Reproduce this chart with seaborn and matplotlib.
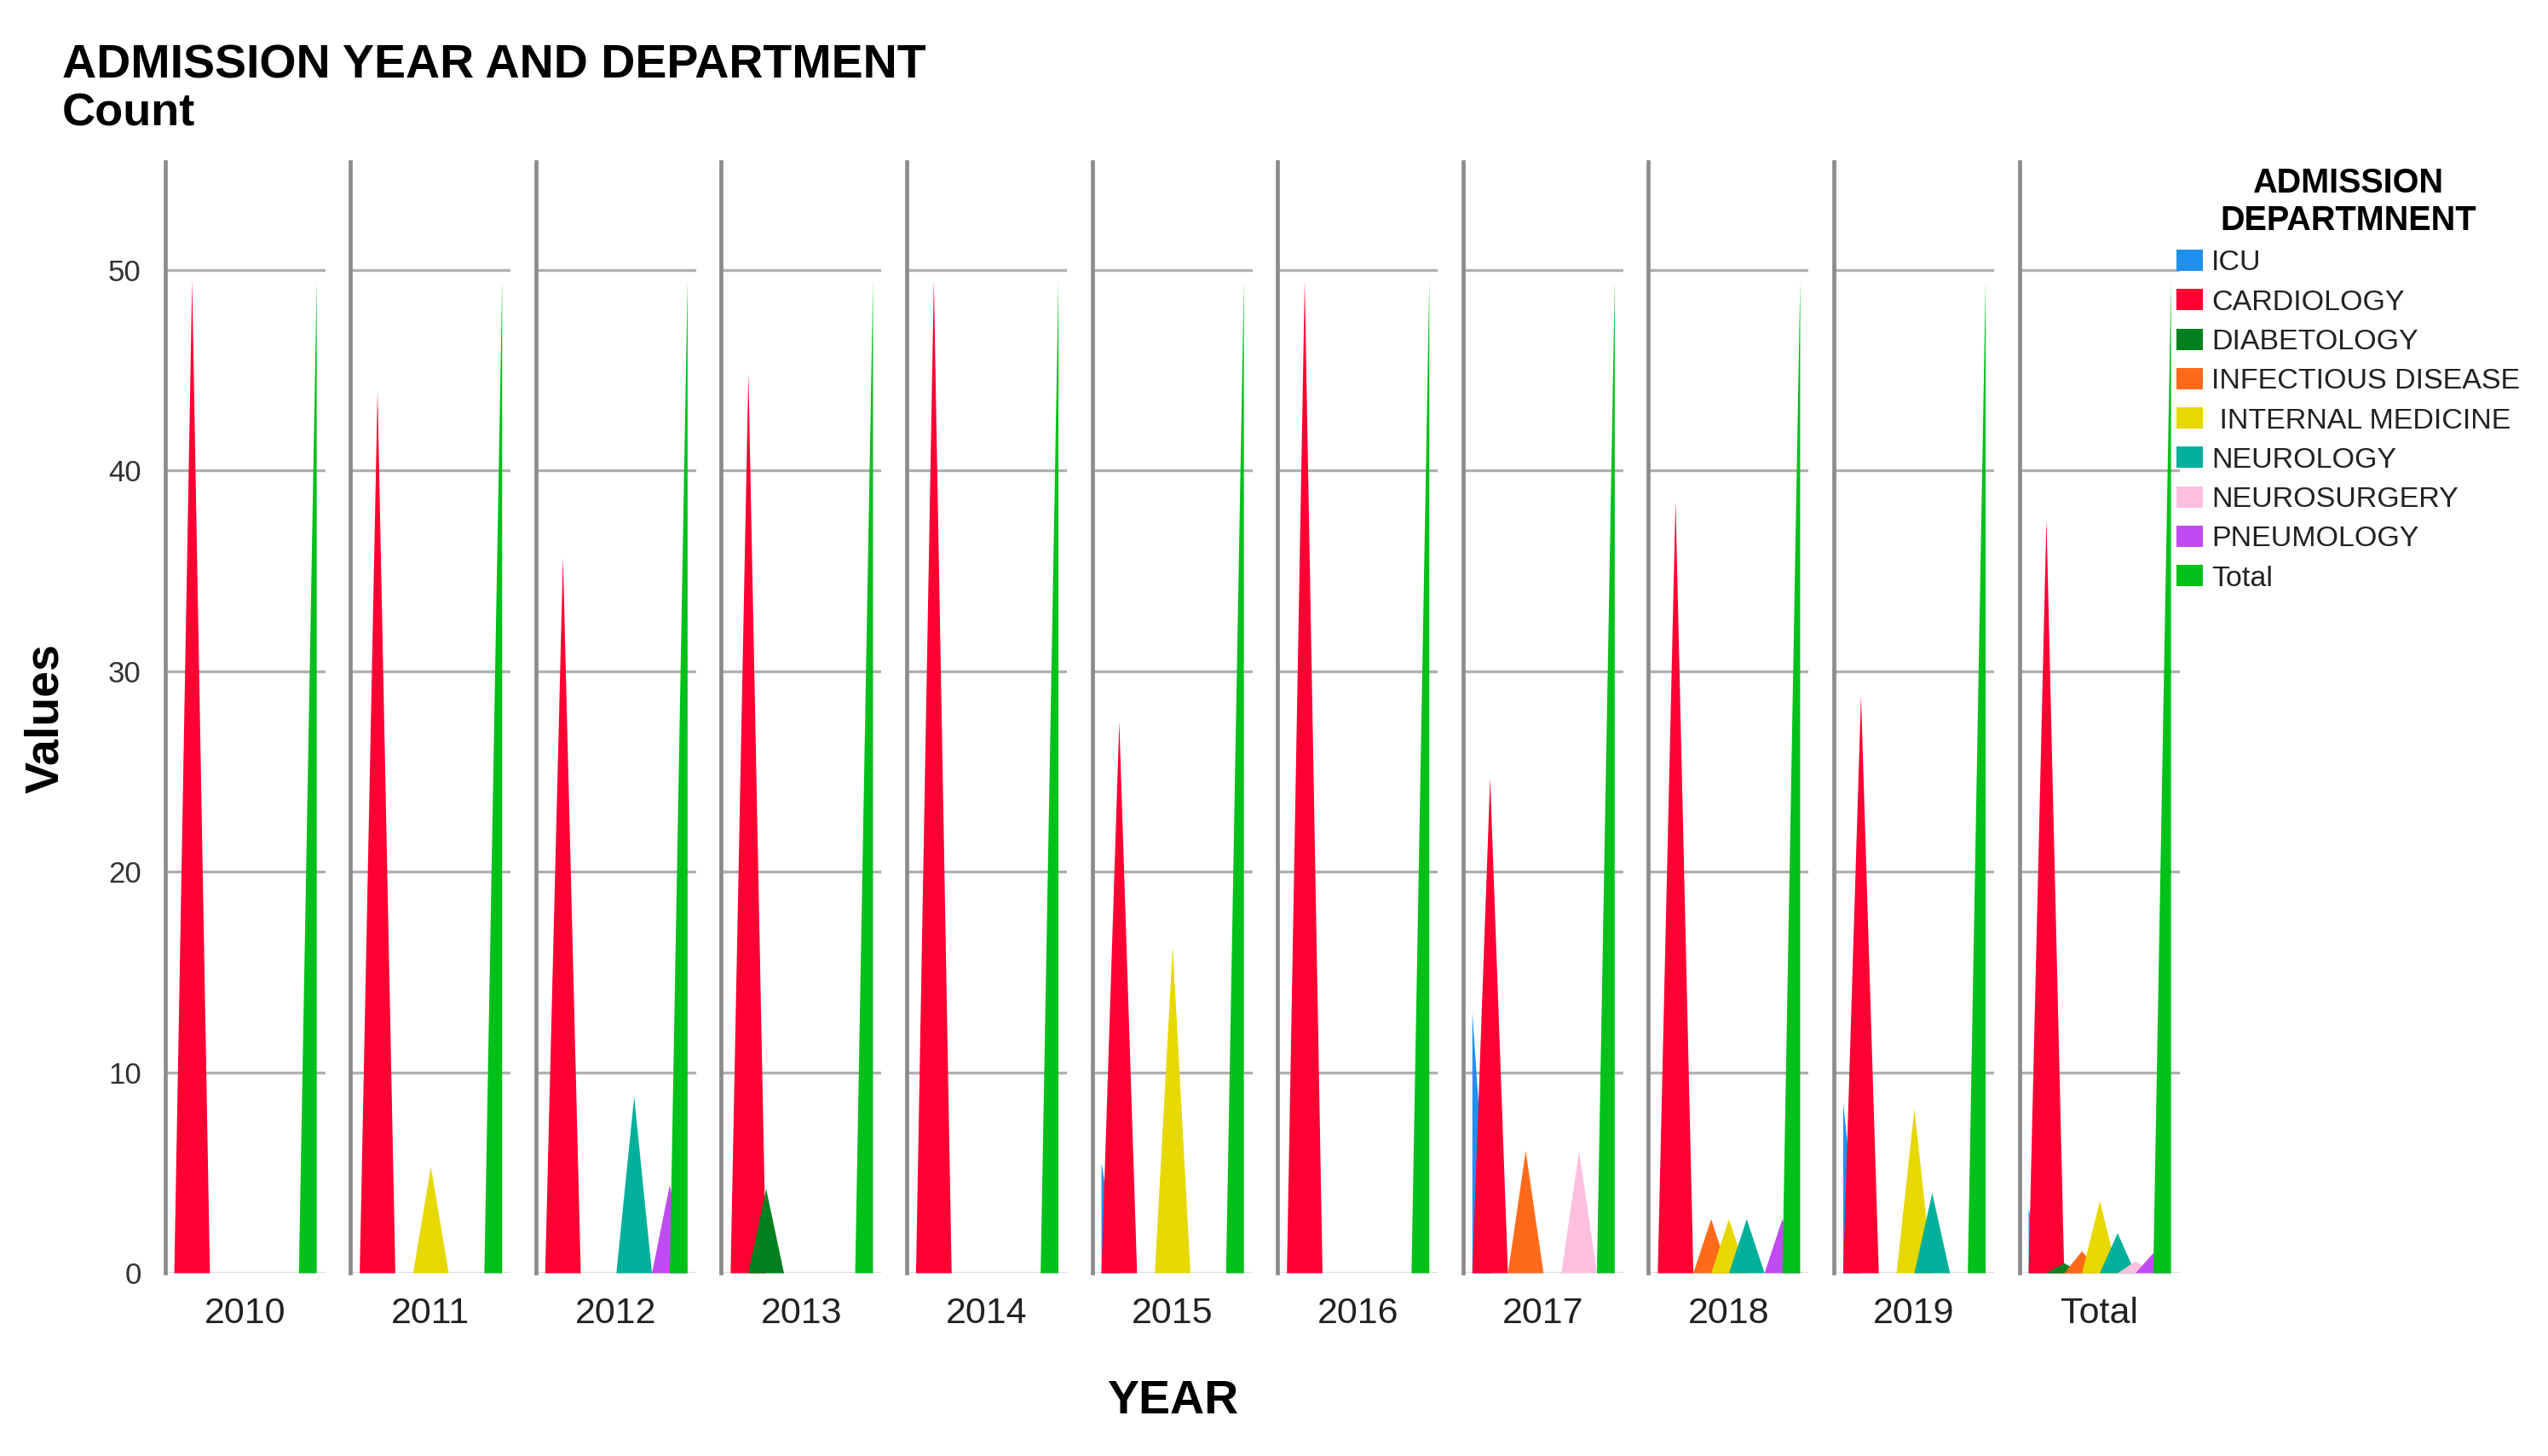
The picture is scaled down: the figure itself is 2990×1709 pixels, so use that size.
import numpy as np
import matplotlib
matplotlib.use("Agg")
import matplotlib.pyplot as plt
import seaborn as sns
from matplotlib.patches import Patch

# ==========================================
# data
# ==========================================
years = ['2010', '2011', '2012', '2013', '2014', '2015', '2016', '2017', '2018', '2019', 'Total']
departments = ['ICU', 'CARDIOLOGY', 'DIABETOLOGY', 'INFECTIOUS DISEASE', ' INTERNAL MEDICINE',
               'NEUROLOGY', 'NEUROSURGERY', 'PNEUMOLOGY', 'Total']

icu          = [0, 0, 0, 0, 0, 5.5, 0, 13.0, 0, 8.5, 3.2]
cardiology   = [49.5, 44.0, 35.7, 44.9, 49.5, 27.5, 49.5, 24.7, 38.5, 28.8, 37.6]
diabetology  = [0, 0, 0, 4.2, 0, 0, 0, 0, 0, 0, 0.5]
infectious   = [0, 0, 0, 0, 0, 0, 0, 6.1, 2.7, 0, 1.1]
internal_med = [0, 5.3, 0, 0, 0, 16.3, 0, 0, 2.7, 8.2, 3.6]
neurology    = [0, 0, 8.8, 0, 0, 0, 0, 0, 2.7, 4.0, 2.0]
neurosurgery = [0, 0, 0, 0, 0, 0, 0, 6.1, 0, 0, 0.6]
pneumology   = [0, 0, 4.4, 0, 0, 0, 0, 0, 2.7, 0, 1.0]
total        = [49.5, 49.5, 49.5, 49.5, 49.5, 49.5, 49.5, 49.5, 49.5, 49.5, 49.5]

series = [icu, cardiology, diabetology, infectious, internal_med,
          neurology, neurosurgery, pneumology, total]

colors = ['#2090f0', '#ff0033', '#00801e', '#ff6a1a', '#e6d800',
          '#00b09a', '#ffc0e0', '#c04af5', '#00c01a']
palette = sns.color_palette(colors)

# ==========================================
# style
# ==========================================
sns.set_theme(style="white")
plt.rcParams['font.family'] = ['Liberation Sans', 'DejaVu Sans']
plt.rcParams['text.color'] = 'black'

W, H = 2990, 1709
fig = plt.figure(figsize=(W / 100, H / 100), dpi=100)

left0 = 193.6 / W
step = 217.6 / W
width = 188 / W
bottom = 1 - 1494 / H
height = (1494 - 190) / H

x = np.arange(len(departments))

for k, yr in enumerate(years):
    ax = fig.add_axes([left0 + k * step, bottom, width, height])
    for j, vals in enumerate(series):
        y = np.zeros(len(departments))
        y[j] = vals[k]
        ax.fill_between(x, 0, y, color=palette[j], lw=0, zorder=3)

    ax.set_xlim(-0.5, 8.5)
    ax.set_ylim(0, 55.4)
    ax.set_yticks([0, 10, 20, 30, 40, 50])
    ax.yaxis.grid(True, color='#b0b0b0', lw=2.4, zorder=1)
    ax.get_ygridlines()[0].set_color('#dcdcdc')
    ax.xaxis.grid(False)
    ax.set_xticks([4])
    ax.set_xticklabels([yr], fontsize=31, color='#222222')
    ax.tick_params(axis='x', length=0, pad=20)
    ax.tick_params(axis='y', length=0, pad=20, labelsize=25, labelcolor='#333333')
    if k > 0:
        ax.tick_params(axis='y', labelleft=False)
    sns.despine(ax=ax, top=True, right=True, bottom=True, left=False)
    ax.spines['left'].set_color('#8c8c8c')
    ax.spines['left'].set_linewidth(3.4)
    ax.set_facecolor('white')

# titles and axis labels
fig.text(73 / W, 1 - 92 / H, 'ADMISSION YEAR AND DEPARTMENT', fontsize=40,
         fontweight='bold', va='baseline', ha='left')
fig.text(73 / W, 1 - 147 / H, 'Count', fontsize=39,
         fontweight='bold', va='baseline', ha='left')
fig.text(54 / W, 1 - 843 / H, 'Values', fontsize=40, fontweight='bold',
         rotation=90, ha='center', va='center')
fig.text(1376 / W, 1 - 1645 / H, 'YEAR', fontsize=40, fontweight='bold',
         ha='center', va='center')

# legend
handles = [Patch(facecolor=c, edgecolor='none') for c in palette]
leg = fig.legend(handles, departments, title='ADMISSION\nDEPARTMNENT',
                 loc='upper left', bbox_to_anchor=(2554 / W, 1 - 196 / H),
                 frameon=False, fontsize=24.5, borderpad=0, borderaxespad=0,
                 handlelength=0.9, handleheight=0.75, handletextpad=0.3,
                 labelspacing=0.44, alignment='center',
                 title_fontproperties={'weight': 'bold', 'size': 28.5})
leg.get_title().set_multialignment('center')
for t in leg.get_texts():
    t.set_color('#222222')

fig.savefig('out.png', dpi=100, facecolor='white')
